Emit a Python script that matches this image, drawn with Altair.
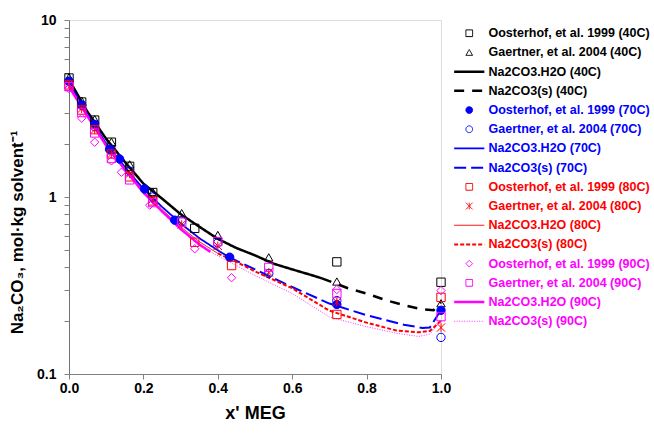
import altair as alt
import pandas as pd

FONT = "Liberation Sans"

# ---- experimental data (Oosterhof et al. 1999) ----
oo40_x = [0, 0.034, 0.069, 0.114, 0.163, 0.225, 0.338, 0.72, 1.0]
oo40_y = [4.70, 3.44, 2.72, 2.04, 1.49, 1.06, 0.665, 0.43, 0.33]
oo70_x = [0, 0.034, 0.069, 0.109, 0.136, 0.203, 0.284, 0.432, 0.72, 1.0]
oo70_y = [4.5, 3.3, 2.57, 1.86, 1.64, 1.11, 0.74, 0.457, 0.247, 0.229]
oo80_x = [0, 0.034, 0.069, 0.114, 0.163, 0.225, 0.338, 0.437, 0.72, 1.0]
oo80_y = [4.3, 3.1, 2.4, 1.75, 1.3, 0.95, 0.555, 0.41, 0.217, 0.271]
oo90_x = [0, 0.034, 0.069, 0.114, 0.141, 0.217, 0.338, 0.437, 0.72, 1.0]
oo90_y = [4.1, 2.79, 2.04, 1.6, 1.38, 0.90, 0.51, 0.35, 0.30, 0.296]

# ---- experimental data (Gaertner et al. 2004) ----
ga_x = [0, 0.034, 0.069, 0.114, 0.163, 0.225, 0.303, 0.40, 0.537, 0.72, 1.0]
ga40_y = [4.75, 3.5, 2.75, 2.05, 1.53, 1.07, 0.81, 0.61, 0.456, 0.333, 0.251]
ga70_y = [4.5, 3.3, 2.5, 1.85, 1.4, 1.0, 0.73, 0.55, 0.37, 0.26, 0.161]
ga80_y = [4.35, 3.15, 2.4, 1.75, 1.35, 0.97, 0.70, 0.53, 0.375, 0.255, 0.183]
ga90_y = [4.2, 3.0, 2.3, 1.65, 1.25, 0.93, 0.72, 0.56, 0.40, 0.285, 0.211]

# ---- model curves ----
h40_x = [0, 0.05, 0.1, 0.15, 0.2, 0.25, 0.3, 0.35, 0.4, 0.45, 0.5, 0.55, 0.6, 0.65, 0.68]
h40_y = [4.6, 3.02, 2.13, 1.58, 1.19, 0.98, 0.80, 0.68, 0.58, 0.515, 0.468, 0.42, 0.39, 0.363, 0.347]
s40_x = [0.68, 0.75, 0.8, 0.85, 0.9, 0.95, 0.98, 1.0]
s40_y = [0.347, 0.305, 0.285, 0.262, 0.245, 0.232, 0.229, 0.255]

h70_x = [0, 0.05, 0.1, 0.15, 0.2, 0.25, 0.3, 0.35, 0.4, 0.43]
h70_y = [4.4, 2.95, 2.0, 1.48, 1.11, 0.88, 0.71, 0.586, 0.50, 0.457]
s70_x = [0.43, 0.5, 0.6, 0.7, 0.8, 0.9, 0.95, 0.97, 1.0]
s70_y = [0.457, 0.39, 0.31, 0.25, 0.215, 0.19, 0.182, 0.183, 0.23]

h80_x = [0, 0.05, 0.1, 0.15, 0.2, 0.25, 0.3, 0.35, 0.4]
h80_y = [4.3, 2.9, 1.97, 1.45, 1.08, 0.85, 0.68, 0.56, 0.48]
s80_x = [0.4, 0.45, 0.5, 0.6, 0.7, 0.8, 0.88, 0.94, 0.97, 1.0]
s80_y = [0.48, 0.43, 0.38, 0.305, 0.228, 0.195, 0.176, 0.172, 0.175, 0.20]

h90_x = [0, 0.05, 0.1, 0.15, 0.2, 0.25, 0.3, 0.35, 0.38]
h90_y = [4.2, 2.85, 1.95, 1.43, 1.06, 0.83, 0.66, 0.54, 0.49]
s90_x = [0.38, 0.45, 0.5, 0.6, 0.7, 0.8, 0.88, 0.94, 0.97, 1.0]
s90_y = [0.49, 0.41, 0.36, 0.285, 0.21, 0.185, 0.17, 0.163, 0.168, 0.20]

series = [
    "Oosterhof, et al. 1999 (40C)", "Gaertner, et al. 2004 (40C)",
    "Na2CO3.H2O (40C)", "Na2CO3(s) (40C)",
    "Oosterhof, et al. 1999 (70C)", "Gaertner, et al. 2004 (70C)",
    "Na2CO3.H2O (70C)", "Na2CO3(s) (70C)",
    "Oosterhof, et al. 1999 (80C)", "Gaertner, et al. 2004 (80C)",
    "Na2CO3.H2O (80C)", "Na2CO3(s) (80C)",
    "Oosterhof, et al. 1999 (90C)", "Gaertner, et al. 2004 (90C)",
    "Na2CO3.H2O (90C)", "Na2CO3(s) (90C)",
]

LINE = "M-4.5,0L4.5,0"
STAR = "M-1,-1L1,1M-1,1L1,-1M0,-1L0,1"
colors = ["black"] * 4 + ["blue"] * 4 + ["red"] * 4 + ["magenta"] * 4
shapes = ["square", "triangle-up", LINE, LINE,
          "circle", "circle", LINE, LINE,
          "square", STAR, LINE, LINE,
          "diamond", "square", LINE, LINE]
fills = ["transparent"] * 16
fills[4] = "blue"
dashes = [[1, 0], [1, 0], [1, 0], [10, 8],
          [1, 0], [1, 0], [1, 0], [12, 5],
          [1, 0], [1, 0], [1, 0], [4, 2],
          [1, 0], [1, 0], [1, 0], [1, 1.5]]
widths = [1, 1, 2.5, 2.5,
          1, 1, 1.8, 2,
          1, 1, 1, 2,
          1, 1, 2.5, 0.8]

point_sets = [
    (series[0], oo40_x, oo40_y), (series[1], ga_x, ga40_y),
    (series[4], oo70_x, oo70_y), (series[5], ga_x, ga70_y),
    (series[8], oo80_x, oo80_y), (series[9], ga_x, ga80_y),
    (series[12], oo90_x, oo90_y), (series[13], ga_x, ga90_y),
]
line_sets = [
    (series[2], h40_x, h40_y), (series[3], s40_x, s40_y),
    (series[6], h70_x, h70_y), (series[7], s70_x, s70_y),
    (series[10], h80_x, h80_y), (series[11], s80_x, s80_y),
    (series[14], h90_x, h90_y), (series[15], s90_x, s90_y),
]

pts = pd.DataFrame([{"series": n, "x": a, "y": b, "k": i * 100 + j}
                    for i, (n, xs, ys) in enumerate(point_sets)
                    for j, (a, b) in enumerate(zip(xs, ys))])
lns = pd.DataFrame([{"series": n, "x": a, "y": b}
                    for n, xs, ys in line_sets for a, b in zip(xs, ys)])

label_color = ("indexof(datum.label,'40C')>=0 ? 'black' : "
               "indexof(datum.label,'70C')>=0 ? 'blue' : "
               "indexof(datum.label,'80C')>=0 ? 'red' : 'magenta'")

leg = alt.Legend(
    title=None, orient="none", legendX=394, legendY=7, padding=0,
    labelFont=FONT, labelFontSize=12.5, labelFontWeight="bold",
    labelColor={"expr": label_color}, labelLimit=400, labelOffset=13,
    symbolSize=45, rowPadding=6.2, symbolOpacity=1,
)

xscale = alt.Scale(domain=[0, 1], nice=False, zero=False)
yscale = alt.Scale(type="log", domain=[0.1, 10], nice=False)

yvals = [0.1, 0.2, 0.3, 0.4, 0.5, 0.6, 0.7, 0.8, 0.9,
         1, 2, 3, 4, 5, 6, 7, 8, 9, 10]
xvals = [0, 0.2, 0.4, 0.6, 0.8, 1.0]

xaxis = alt.Axis(values=xvals, format=".1f", grid=False, tickSize=5, labelFlush=False,
                 labelFont=FONT, labelFontSize=14, labelFontWeight="bold",
                 labelColor="black", labelPadding=2, domainColor="#808080",
                 tickColor="#808080", titleFont=FONT, titleFontSize=18,
                 titleFontWeight="bold", titleColor="black", titlePadding=9)
yaxis = alt.Axis(values=yvals, grid=False, tickSize=5, labelFlush=False,
                 labelExpr="(datum.value==0.1||datum.value==1||datum.value==10) ? datum.value+'' : ''",
                 labelFont=FONT, labelFontSize=14, labelFontWeight="bold",
                 labelColor="black", labelPadding=8, domainColor="#707070",
                 tickColor="#808080", titleFont=FONT, titleFontSize=17,
                 titleFontWeight="bold", titleColor="black",
                 titleX=-52, titleY=212, titleAlign="center", titleAngle=270,
                 titleBaseline="middle")

X = alt.X("x:Q", scale=xscale, axis=xaxis, title="x' MEG")
Y = alt.Y("y:Q", scale=yscale, axis=yaxis, title="Na₂CO₃, mol·kg solvent⁻¹")

stroke = alt.Stroke("series:N", scale=alt.Scale(domain=series, range=colors), legend=leg)
swidth = alt.StrokeWidth("series:N",
                         scale=alt.Scale(type="ordinal", domain=series, range=widths),
                         legend=leg)

lines = alt.Chart(lns).mark_line().encode(
    x=X, y=Y, stroke=stroke, strokeWidth=swidth,
    strokeDash=alt.StrokeDash("series:N", scale=alt.Scale(domain=series, range=dashes), legend=leg),
)

points = alt.Chart(pts).mark_point(size=70, filled=False, opacity=1).encode(
    x=X, y=Y, stroke=stroke, strokeWidth=swidth,
    shape=alt.Shape("series:N", scale=alt.Scale(domain=series, range=shapes), legend=leg),
    fill=alt.Fill("series:N", scale=alt.Scale(domain=series, range=fills), legend=leg),
    order=alt.Order("k:Q"),
)

chart = alt.layer(lines, points).properties(
    width=372, height=354,
    autosize=alt.AutoSizeParams(type="none"),
    padding={"left": 69, "top": 20, "right": 213, "bottom": 60},
).configure_view(stroke="#a0a0a0", strokeWidth=1.5).configure(background="white")

chart.save("out.html", embed_options={"renderer": "svg", "actions": False})
